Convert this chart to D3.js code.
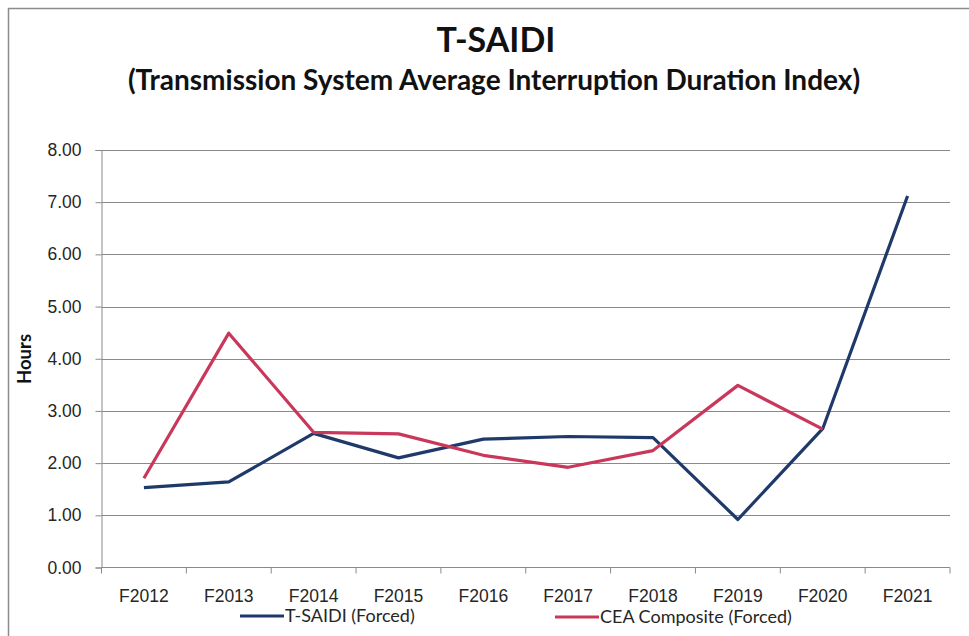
<!DOCTYPE html>
<meta charset="utf-8">
<title>T-SAIDI</title>
<style>
    body {
        margin: 0;
        background: #fff;
    }

    svg {
        display: block;
        font-family: Lato, "Open Sans", sans-serif;
    }

    .grid line {
        stroke: #8a8a8a;
        stroke-width: 1;
    }

    .axis path,
    .axis line {
        stroke: #8a8a8a;
    }

    .axis text {
        fill: #262626;
        font-size: 17.5px;
    }

    .series {
        fill: none;
        stroke-width: 3.2;
        stroke-linejoin: round;
    }
</style>

<body>
<svg width="969" height="636"></svg>
<script src="https://cdn.jsdelivr.net/npm/d3@7"></script>
<script>
    var years = ["F2012", "F2013", "F2014", "F2015", "F2016", "F2017", "F2018", "F2019", "F2020", "F2021"];
    var tsaidi = [1.53, 1.64, 2.57, 2.10, 2.46, 2.51, 2.49, 0.92, 2.66, 7.12];
    var cea = [1.71, 4.49, 2.59, 2.56, 2.15, 1.92, 2.24, 3.49, 2.65, null];
    var yTicks = [0, 1, 2, 3, 4, 5, 6, 7, 8];
    var seriesNames = ["T-SAIDI (Forced)", "CEA Composite (Forced)"];
    var colors = ["#1f3a6a", "#c9385b"];

    var svg = d3.select("svg");
    var plotLeft = 101.5, plotRight = 950, plotTop = 150, plotBottom = 567.5;

    // frame round the chart
    svg.append("path")
        .attr("d", "M8.5,640 V8.5 H975")
        .attr("fill", "none")
        .attr("stroke", "#8c8c8c")
        .attr("stroke-width", 1.5);

    svg.append("text")
        .attr("x", 496).attr("y", 52)
        .attr("text-anchor", "middle")
        .style("font-weight", "bold").style("font-size", "34px")
        .attr("fill", "#111")
        .text("T-SAIDI");

    svg.append("text")
        .attr("x", 494).attr("y", 90)
        .attr("text-anchor", "middle")
        .style("font-weight", "bold").style("font-size", "28px")
        .attr("fill", "#111")
        .text("(Transmission System Average Interruption Duration Index)");

    var x = d3.scaleBand().domain(years).range([plotLeft, plotRight]);
    var y = d3.scaleLinear().domain([0, 8]).range([plotBottom, plotTop]);

    // gridlines
    svg.append("g")
        .attr("class", "grid")
        .selectAll("line")
        .data(yTicks.slice(1))
        .enter().append("line")
        .attr("x1", plotLeft).attr("x2", plotRight)
        .attr("y1", d => Math.round(y(d)) + 0.5)
        .attr("y2", d => Math.round(y(d)) + 0.5);

    svg.append("g")
        .attr("class", "axis")
        .attr("transform", "translate(" + plotLeft + ",0)")
        .call(d3.axisLeft(y).tickValues(yTicks).tickSize(6).tickPadding(14)
            .tickFormat(d3.format(".2f")));

    var xAxis = svg.append("g")
        .attr("class", "axis")
        .attr("transform", "translate(0," + plotBottom + ")")
        .call(d3.axisBottom(x).tickSize(0).tickPadding(22));
    xAxis.select(".domain").attr("d", "M" + plotLeft + ",0H" + plotRight);
    // Excel style ticks between categories
    xAxis.selectAll(".sep")
        .data(d3.range(years.length + 1))
        .enter().append("line")
        .attr("class", "sep")
        .attr("x1", i => plotLeft + i * x.step()).attr("x2", i => plotLeft + i * x.step())
        .attr("y1", 0).attr("y2", 6);

    svg.append("text")
        .attr("transform", "translate(31,359) rotate(-90)")
        .attr("text-anchor", "middle")
        .style("font-weight", "bold").style("font-size", "18.5px")
        .attr("fill", "#111")
        .text("Hours");

    var line = d3.line()
        .defined(d => d != null)
        .x((d, i) => x(years[i]) + x.bandwidth() / 2)
        .y(d => y(d));

    [tsaidi, cea].forEach((vals, k) => {
        svg.append("path")
            .attr("class", "series")
            .attr("stroke", colors[k])
            .attr("d", line(vals));
    });

    // legend
    var legendPos = [{x: 240, y: 616}, {x: 555, y: 617}];
    var legend = svg.append("g").selectAll("g")
        .data(seriesNames)
        .enter().append("g")
        .attr("transform", (d, i) => "translate(" + legendPos[i].x + "," + legendPos[i].y + ")");
    legend.append("line")
        .attr("x1", 0).attr("x2", 44)
        .attr("stroke", (d, i) => colors[i])
        .attr("stroke-width", 3.2);
    legend.append("text")
        .attr("x", 45).attr("dy", "0.35em")
        .style("font-size", "18px")
        .attr("fill", "#262626")
        .text(d => d);
</script>
</body>
